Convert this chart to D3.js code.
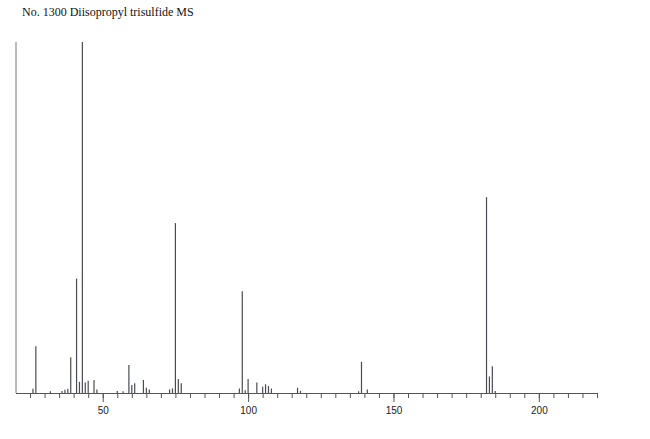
<!DOCTYPE html>
<html>
<head>
<meta charset="utf-8">
<script src="https://cdn.jsdelivr.net/npm/d3@7"></script>
<style>
    body { margin: 0; background: #fff; }
    .title { font-family: "Liberation Serif", "Times New Roman", serif; font-size: 12px; fill: #111; }
    .axis text { font-family: "Liberation Sans", Arial, sans-serif; font-size: 10px; fill: #222; }
</style>
</head>
<body>
<div id="chart"></div>
<script>
// peak positions (m/z) and relative intensities (%)
const mz = [26, 27, 32, 36, 37, 38, 39, 41, 42, 43, 44, 45, 47, 48,
    55, 57, 59, 60, 61, 64, 65, 66, 73, 74, 75, 76, 77,
    97, 98, 99, 100, 103, 105, 106, 107, 108, 117, 118,
    138, 139, 141, 182, 183, 184, 185];
const intensity = [1.2, 13.3, 0.5, 0.6, 0.9, 1.2, 10.2, 32.6, 3.2, 100, 3.0, 3.5, 3.7, 1.0,
    0.6, 0.5, 8.0, 2.3, 2.8, 3.7, 1.5, 1.0, 1.0, 1.3, 48.4, 4.0, 2.8,
    1.3, 29.0, 0.8, 4.0, 3.0, 1.8, 2.5, 2.0, 1.3, 1.5, 0.6,
    0.5, 8.9, 1.0, 55.8, 4.7, 7.6, 0.6];

const minorTicks = d3.range(25, 221, 5);
const majorTicks = [50, 100, 150, 200];
const titleText = "No. 1300 Diisopropyl trisulfide MS";

const width = 650, height = 439;

const svg = d3.select("#chart").append("svg")
    .attr("width", width)
    .attr("height", height);

svg.append("rect")
    .attr("width", width)
    .attr("height", height)
    .attr("fill", "#fff");

// scales
const x = d3.scaleLinear().domain([20, 220]).range([15.5, 597]);
const y = d3.scaleLinear().domain([0, 100]).range([393, 42]);

// title
svg.append("text")
    .attr("class", "title")
    .attr("x", 22)
    .attr("y", 16)
    .text(titleText);

// left vertical line
svg.append("line")
    .attr("x1", 16).attr("x2", 16)
    .attr("y1", y(100)).attr("y2", y(0))
    .attr("stroke", "#777")
    .attr("stroke-width", 1);

// minor ticks + baseline
const minorAxis = d3.axisBottom(x)
    .tickValues(minorTicks)
    .tickSize(5)
    .tickFormat("");

svg.append("g")
    .attr("class", "axis")
    .attr("transform", `translate(0, ${y(0)})`)
    .call(minorAxis)
    .call(g => g.select(".domain").attr("stroke", "#555").attr("d", `M16,0.5H${x(220)}`))
    .call(g => g.selectAll(".tick line").attr("stroke", "#555"));

// major ticks with labels
const majorAxis = d3.axisBottom(x)
    .tickValues(majorTicks)
    .tickSize(9)
    .tickPadding(5)
    .tickFormat(d3.format("d"));

svg.append("g")
    .attr("class", "axis")
    .attr("transform", `translate(0, ${y(0)})`)
    .call(majorAxis)
    .call(g => g.select(".domain").remove())
    .call(g => g.selectAll(".tick line").attr("stroke", "#555"));

// peaks
const peaks = mz.map((m, i) => ({ mz: m, value: intensity[i] }));

svg.append("g")
    .selectAll("line")
    .data(peaks)
    .enter().append("line")
    .attr("x1", d => x(d.mz))
    .attr("x2", d => x(d.mz))
    .attr("y1", y(0))
    .attr("y2", d => y(d.value))
    .attr("stroke", "#4a4a55")
    .attr("stroke-width", 1.2);
</script>
</body>
</html>
